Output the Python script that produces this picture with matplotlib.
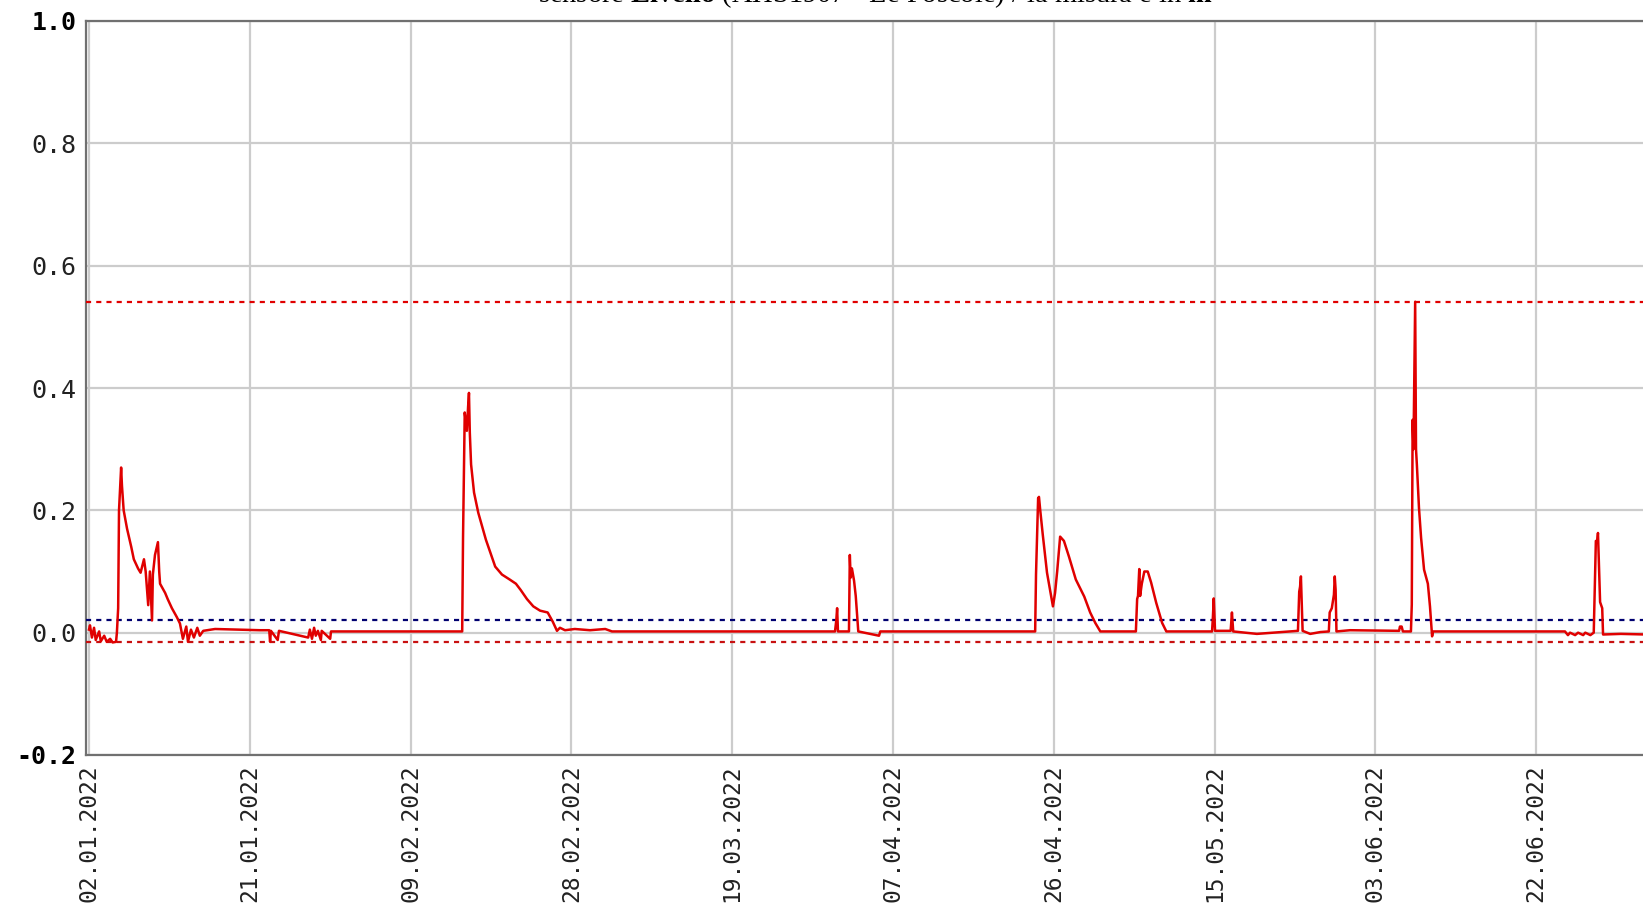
import pandas as pd
import matplotlib
matplotlib.use('Agg')
from matplotlib import pyplot as plt

# sensor readings: days after 02.01.2022 and level in m
days = [0.0, 0.12, 0.35, 0.6, 0.8, 1.2, 1.4, 1.8, 2.1, 2.5, 2.8, 3.2, 3.3,
        3.45, 3.55, 3.8, 3.9, 4.1, 4.5, 5.0, 5.3, 5.8, 6.1, 6.5, 6.7, 7.0,
        7.2, 7.45, 7.55, 7.8, 8.15, 8.3, 8.4, 9.0, 9.3, 9.8, 10.4, 10.75,
        11.1, 11.5, 11.7, 12.05, 12.4, 12.8, 13.1, 13.5, 14.9, 20.2,
        21.3, 21.4, 21.5, 22.3, 22.45,
        25.9, 26.1, 26.35, 26.6, 26.8, 27.05, 27.4, 27.5, 28.5, 28.6,
        44.1, 44.2, 44.4, 44.65, 44.8, 44.9, 45.0, 45.15, 45.5, 46.0, 46.9,
        48.0, 48.8, 49.7, 50.45, 51.0, 51.75, 52.5, 53.3, 54.2, 54.8, 55.3,
        55.65, 56.25, 57.4, 59.2, 61.0, 61.8,
        88.15, 88.3, 88.4, 88.5, 89.8, 89.9, 90.0, 90.15, 90.4, 90.6, 90.9,
        93.35, 93.5,
        111.8, 111.9, 112.15, 112.25, 112.4, 112.7, 113.2, 113.55, 113.9,
        114.15, 114.4, 114.75, 115.2, 115.8, 116.6, 117.6, 118.3, 118.9, 119.5,
        123.7, 123.85, 123.95, 124.1, 124.2, 124.4, 124.7, 125.1, 125.5,
        126.1, 126.8, 127.3,
        132.7, 132.8, 132.9, 133.05, 134.9, 135.05, 135.2,
        138.0, 140.0, 142.85, 143.0, 143.1, 143.2, 143.4, 144.3, 145.5,
        146.5, 146.6, 146.85, 147.1, 147.2, 147.3, 147.4, 149.0,
        154.8, 154.9, 155.1, 155.25,
        156.2, 156.3, 156.4, 156.5, 156.7, 156.8, 156.9, 157.15, 157.4,
        157.75, 158.2, 158.45, 158.7, 158.8,
        174.4, 174.75, 175.0, 175.6, 175.95, 176.55, 176.8, 177.4, 177.8,
        178.05, 178.2, 178.3, 178.4, 178.55, 178.8, 178.9, 181.0, 184.0]
level = [0.005, 0.012, -0.008, 0.008, -0.012, 0.002, -0.014, -0.005, -0.015,
         -0.01, -0.016, -0.015, 0.0,
         0.04, 0.2, 0.27, 0.24, 0.2, 0.17, 0.14, 0.12, 0.105, 0.098, 0.12,
         0.10, 0.045, 0.10, 0.02, 0.095, 0.127, 0.148, 0.1, 0.08, 0.065,
         0.055, 0.04, 0.025, 0.015,
         -0.01, 0.01, -0.015, 0.005, -0.008, 0.008, -0.005, 0.003, 0.006, 0.004,
         0.004, -0.015, 0.003, -0.012, 0.003,
         -0.008, 0.005, -0.01, 0.008, -0.005, 0.003, -0.012, 0.003, -0.01, 0.002,
         0.002, 0.157, 0.36, 0.33, 0.37, 0.392, 0.327, 0.275, 0.229, 0.196,
         0.152, 0.108, 0.095, 0.087, 0.08, 0.07, 0.055, 0.043, 0.036, 0.033,
         0.018, 0.003,
         0.008, 0.004, 0.006, 0.004, 0.006, 0.002,
         0.002, 0.02, 0.04, 0.002, 0.002, 0.127, 0.09, 0.105, 0.085, 0.06,
         0.002,
         -0.005, 0.002,
         0.002, 0.095, 0.22, 0.222, 0.2, 0.16, 0.098, 0.07, 0.043,
         0.065, 0.1, 0.157, 0.15, 0.124, 0.087, 0.059, 0.033, 0.016, 0.002,
         0.002, 0.055, 0.06, 0.104, 0.06, 0.08, 0.1, 0.1, 0.082,
         0.049, 0.016, 0.002,
         0.002, 0.025, 0.056, 0.003, 0.003, 0.033, 0.002,
         -0.002, 0.0, 0.003, 0.067, 0.075, 0.092, 0.003, -0.002, 0.001,
         0.002, 0.033, 0.04, 0.062, 0.092, 0.07, 0.002, 0.004,
         0.003, 0.01, 0.01, 0.002,
         0.002, 0.046, 0.348, 0.3, 0.541, 0.3, 0.275, 0.204, 0.155,
         0.103, 0.08, 0.043, -0.006, 0.002,
         0.002, -0.004, 0.0, -0.004, 0.0, -0.004, 0.0, -0.004, 0.0,
         0.15, 0.149, 0.163, 0.12, 0.05, 0.04, -0.003, -0.002, -0.003]

# threshold lines
upper_limit = 0.541
lower_limit = -0.016
base_limit = 0.02

tick_labels = ['02.01.2022', '21.01.2022', '09.02.2022', '28.02.2022', '19.03.2022',
               '07.04.2022', '26.04.2022', '15.05.2022', '03.06.2022', '22.06.2022']
y_ticks = [-0.2, 0.0, 0.2, 0.4, 0.6, 0.8, 1.0]

start = pd.Timestamp('2022-01-02')
dates = start + pd.to_timedelta(days, unit='D')
tick_dates = [pd.to_datetime(t, format='%d.%m.%Y') for t in tick_labels]

plt.rcParams['mathtext.fontset'] = 'custom'
plt.rcParams['mathtext.rm'] = 'Liberation Serif'
plt.rcParams['mathtext.bf'] = 'Liberation Serif:bold'

fig = plt.figure(figsize=(16.43, 9.11), dpi=100)
ax = fig.add_axes([86 / 1643, 1 - 755 / 911, 1 - 86 / 1643, (755 - 21) / 911])

ax.plot(dates, level, color='#e00000', lw=1.8, zorder=4)
ax.axhline(upper_limit, color='#e00000', lw=1.6, dashes=(2.3, 2.3), zorder=3)
ax.axhline(lower_limit, color='#c81010', lw=1.6, dashes=(2.3, 2.3), zorder=3)
ax.axhline(base_limit, color='#000070', lw=1.6, dashes=(2.3, 2.3), zorder=3)

ax.set_ylim(-0.2, 1.0)
ax.set_xlim(start - pd.Timedelta(days=0.35), start + pd.Timedelta(days=183.62))
ax.set_yticks(y_ticks)
ax.set_yticklabels(['%.1f' % v for v in y_ticks])
ax.set_xticks(tick_dates)
ax.set_xticklabels(tick_labels, rotation=90)
ax.tick_params(length=0)
ax.tick_params(axis='y', pad=7, labelsize=18)
ax.tick_params(axis='x', pad=7, labelsize=16.5)
for lab in ax.get_yticklabels() + ax.get_xticklabels():
    lab.set_family('DejaVu Sans Mono')
    lab.set_color('#222222')
for lab in ax.get_yticklabels():
    if lab.get_text() in ('1.0', '-0.2'):
        lab.set_fontweight('bold')
        lab.set_color('black')

ax.grid(True, color='#cccccc', lw=1.6)
ax.set_axisbelow(True)
for side in ['left', 'top', 'bottom']:
    ax.spines[side].set_color('#707070')
    ax.spines[side].set_linewidth(1.6)
ax.spines['right'].set_visible(False)

fig.text(0.533, 1 - 2.5 / 911,
         r'sensore $\bf{Livello}$ (AHS1907 - Le Poscole) / la misura è in $\bf{m}$',
         ha='center', va='baseline', fontsize=20.5, family='Liberation Serif')

fig.savefig('out.png', dpi=100)
